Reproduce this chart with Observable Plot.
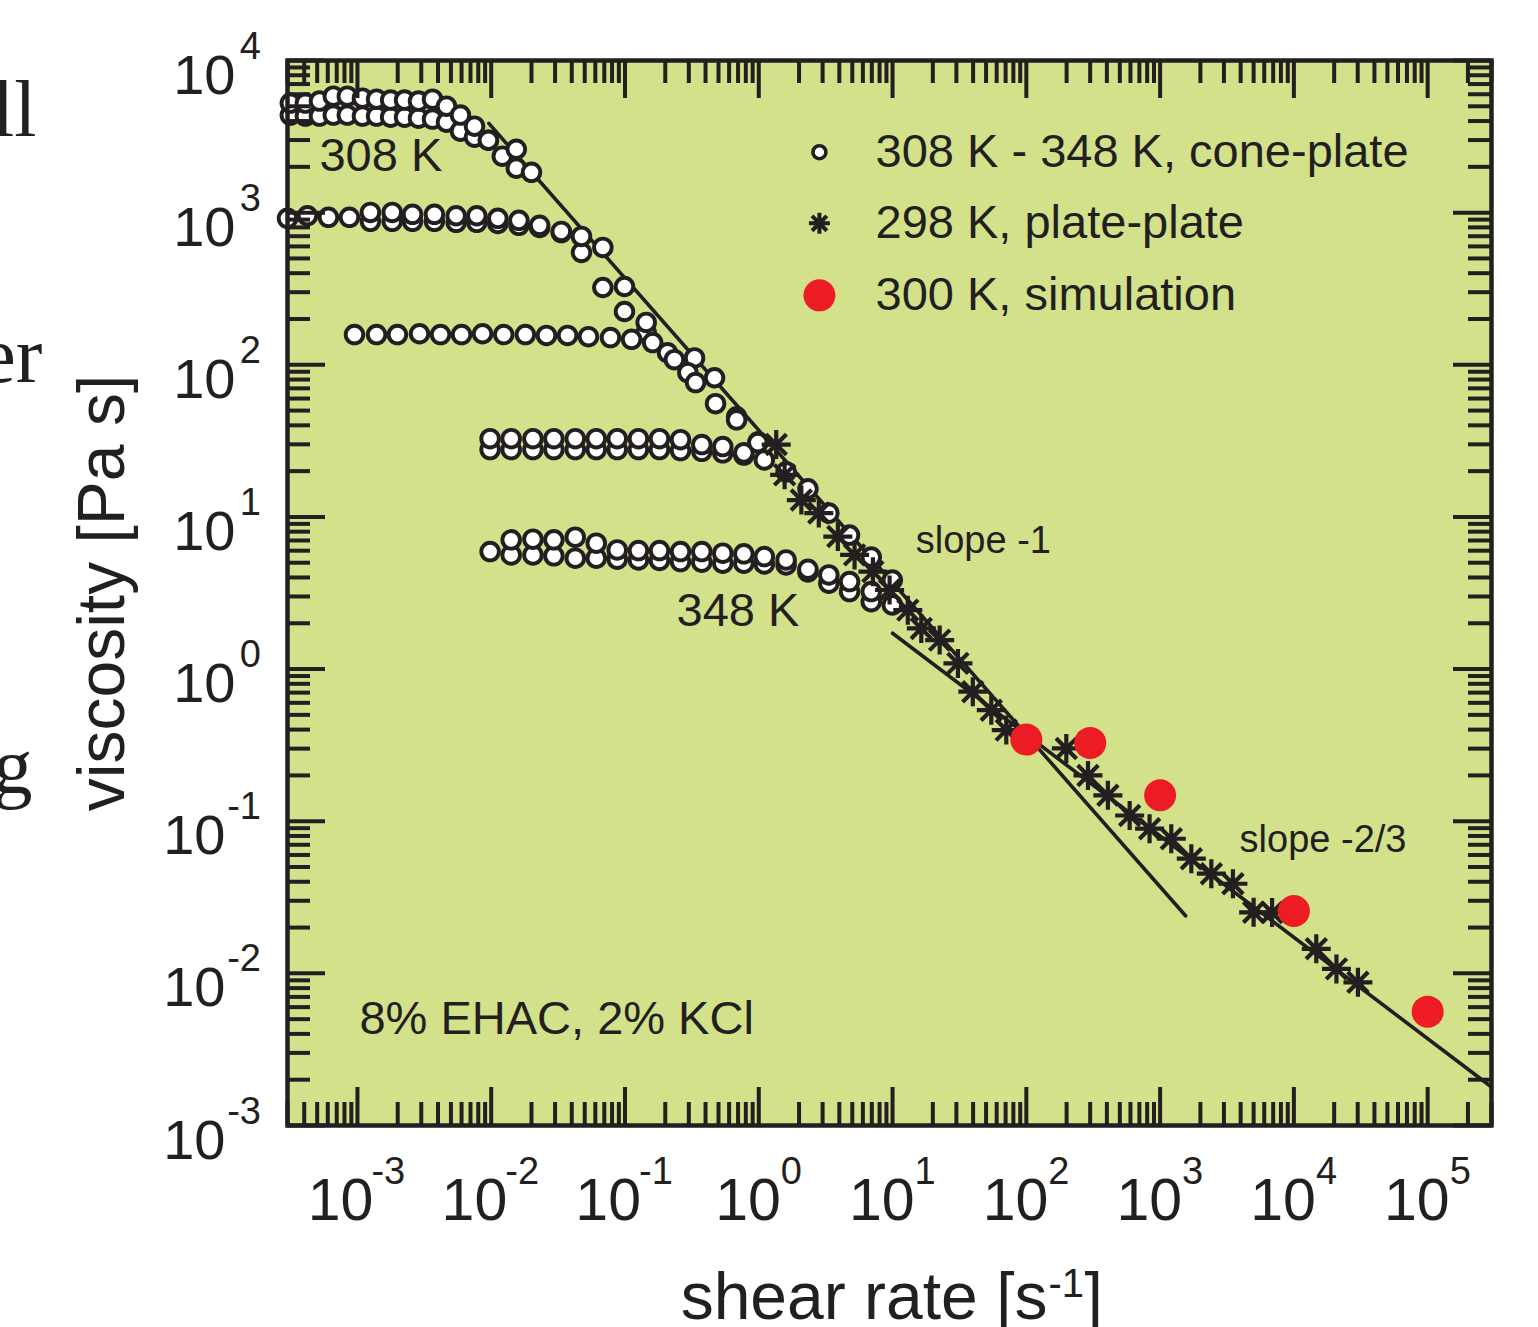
<!DOCTYPE html>
<html><head><meta charset="utf-8">
<script src="https://cdn.jsdelivr.net/npm/d3@7"></script>
<script src="https://cdn.jsdelivr.net/npm/@observablehq/plot@0.6"></script>
<style>html,body{margin:0;padding:0;background:#fff;} #chart svg{display:block;}</style>
</head><body><div id="chart"></div>
<script>
// ---------- data (shear rate [1/s], viscosity [Pa s]) ----------
// cone-plate, 308 K (two runs)
const t308aX = [3.15e-4, 4.08e-4, 5.2e-4, 6.6e-4, 8.4e-4, 1.09e-3, 1.39e-3, 1.77e-3, 2.25e-3, 2.86e-3, 3.64e-3, 4.63e-3, 5.89e-3, 7.5e-3, 9.53e-3, 1.21e-2, 1.54e-2];
const t308aY = [5250, 5250, 5410, 5830, 5830, 5650, 5570, 5490, 5490, 5410, 5570, 5010, 4380, 3700, 2990, 2350, 2610];
const t308bX = [3.15e-4, 4.08e-4, 5.2e-4, 6.6e-4, 8.4e-4, 1.09e-3, 1.39e-3, 1.77e-3, 2.25e-3, 2.86e-3, 3.64e-3, 4.63e-3, 5.89e-3, 7.5e-3, 9.53e-3, 1.54e-2, 2.0e-2];
const t308bY = [4380, 4310, 4310, 4380, 4380, 4310, 4310, 4240, 4240, 4180, 4120, 3930, 3430, 3130, 2990, 1960, 1840];
// ~318 K
const t318aX = [3.0e-4, 4.23e-4, 6.07e-4, 8.71e-4, 1.25e-3, 1.82e-3, 2.58e-3, 3.76e-3, 5.47e-3, 7.80e-3, 1.12e-2, 1.61e-2, 2.30e-2, 3.34e-2, 4.73e-2, 6.83e-2, 9.91e-2, 0.144, 0.208, 0.295];
const t318aY = [917, 954, 931, 931, 1004, 1004, 975, 975, 954, 954, 917, 890, 825, 753, 698, 591, 327, 190, 120, 88.8];
const t318bX = [1.25e-3, 1.82e-3, 2.58e-3, 3.76e-3, 5.47e-3, 7.80e-3, 1.12e-2, 1.61e-2, 2.30e-2, 3.34e-2, 4.73e-2, 6.83e-2, 9.91e-2, 0.144, 0.331, 0.467, 0.683];
const t318bY = [877, 877, 877, 877, 864, 864, 850, 825, 800, 740, 547, 322, 224, 163, 111, 82.2, 45.5];
// ~328 K
const t328X = [9.5e-4, 1.39e-3, 1.99e-3, 2.91e-3, 4.18e-3, 6.0e-3, 8.61e-3, 1.24e-2, 1.80e-2, 2.59e-2, 3.72e-2, 5.33e-2, 7.79e-2, 0.112, 0.161, 0.234, 0.337, 0.475, 0.683, 0.99];
const t328Y = [158, 158, 158, 160, 158, 158, 160, 158, 158, 156, 156, 153, 151, 147, 140, 108, 76.4, 55.5, 43.5, 31.2];
// ~338 K
const t338aX = [9.81e-3, 1.41e-2, 2.05e-2, 2.94e-2, 4.25e-2, 6.10e-2, 8.75e-2, 0.126, 0.181, 0.260, 0.375, 0.538, 0.773, 0.984, 1.10, 1.60, 2.33, 3.34, 4.77, 6.93, 9.96];
const t338aY = [32.7, 32.7, 32.7, 32.7, 32.7, 32.7, 32.7, 32.7, 32.7, 32.2, 29.9, 29.0, 26.4, 30.8, 23.7, 19.8, 15.3, 10.6, 7.6, 5.45, 3.85];
const t338bX = [9.81e-3, 1.41e-2, 2.05e-2, 2.94e-2, 4.25e-2, 6.10e-2, 8.75e-2, 0.126, 0.181, 0.260, 0.375, 0.538, 0.773];
const t338bY = [27.7, 27.7, 27.7, 27.7, 27.7, 27.7, 27.7, 27.7, 27.7, 27.3, 27.0, 26.4, 25.5];
// 348 K
const t348aX = [1.41e-2, 2.05e-2, 2.94e-2, 4.25e-2, 6.10e-2, 8.75e-2, 0.126, 0.181, 0.260, 0.375, 0.538, 0.773, 1.10, 1.60, 2.33, 3.34, 4.77, 6.93];
const t348aY = [7.07, 7.14, 7.07, 7.36, 6.72, 6.07, 6.01, 6.01, 5.92, 5.92, 5.78, 5.72, 5.49, 5.22, 4.53, 4.16, 3.76, 3.23];
const t348bX = [9.81e-3, 1.41e-2, 2.05e-2, 2.94e-2, 4.25e-2, 6.10e-2, 8.75e-2, 0.126, 0.181, 0.260, 0.375, 0.538, 0.773, 1.10, 1.60, 2.33, 3.34, 4.77, 6.93, 9.96];
const t348bY = [5.92, 5.63, 5.63, 5.55, 5.36, 5.36, 5.28, 5.22, 5.17, 5.09, 5.04, 4.96, 4.96, 4.91, 4.84, 4.35, 3.67, 3.23, 2.77, 2.64];
// plate-plate, 298 K
const ppX = [1.35, 1.56, 2.08, 2.81, 3.90, 5.20, 7.13, 9.5, 13.0, 16.4, 22.5, 30.8, 39.8, 54.7, 70.8, 199, 289, 407, 592, 834, 1212, 1711, 2414, 3501, 5000, 6870, 14700, 20800, 30100];
const ppY = [29.9, 18.9, 12.9, 10.6, 7.43, 5.63, 4.37, 3.31, 2.44, 1.85, 1.55, 1.09, 0.710, 0.537, 0.397, 0.301, 0.200, 0.148, 0.109, 0.0893, 0.0767, 0.0567, 0.0452, 0.0388, 0.0252, 0.0251, 0.0145, 0.0107, 0.00873];
// simulation, 300 K
const simX = [100, 300, 1000, 10000, 100000];
const simY = [0.344, 0.327, 0.148, 0.0257, 0.0056];
// guide lines
const slope1X = [0.0096, 1550];
const slope1Y = [3860, 0.0239];
const slope23X = [10, 3e5];
const slope23Y = [1.72, 0.00179];
// tick exponents
const xExps = [-3, -2, -1, 0, 1, 2, 3, 4, 5];
const yExps = [-3, -2, -1, 0, 1, 2, 3, 4];
// legend
const legendLabels = ["308 K - 348 K, cone-plate", "298 K, plate-plate", "300 K, simulation"];
const legendY = [2495, 851, 286];
const legendMarkX = 2.84;
const legendTextX = 7.46;
// annotations
const annoText = ["308 K", "348 K", "8% EHAC, 2% KCl"];
const annoX = [5.2e-4, 0.2426, 1.035e-3];
const annoY = [2350, 2.41, 5.04e-3];
const slopeText = ["slope -1", "slope -2/3"];
const slopeTX = [14.9, 3926];
const slopeTY = [6.96, 0.076];

// ---------- helpers ----------
const pts = (xs, ys) => xs.map((x, i) => ({x, y: ys[i]}));
const ink = "#231f20";
const bg = "#d3e18b";
const FONT = "'Liberation Sans', Arial, Helvetica, sans-serif";
const W = 1538, H = 1327, mL = 287, mR = 47, mT = 60, mB = 202;
const fW = W - mL - mR, fH = H - mT - mB;
const xDomain = [3e-4, 3e5], yDomain = [1e-3, 1e4];
const xAll = d3.scaleLog().domain(xDomain).ticks();
const yAll = d3.scaleLog().domain(yDomain).ticks();
const isMajor = v => Math.abs(Math.log10(v) - Math.round(Math.log10(v))) < 1e-9;
const xMajor = xAll.filter(isMajor), xMinor = xAll.filter(v => !isMajor(v));
const yMajor = yAll.filter(isMajor), yMinor = yAll.filter(v => !isMajor(v));
const MAJ = 38, MIN = 23, TW = 4;

const asterisk8 = {
  draw(context, size) {
    const r = Math.sqrt(size / Math.PI);
    const d = r * Math.SQRT1_2;
    context.moveTo(0, -r); context.lineTo(0, r);
    context.moveTo(-r, 0); context.lineTo(r, 0);
    context.moveTo(-d, -d); context.lineTo(d, d);
    context.moveTo(-d, d); context.lineTo(d, -d);
  }
};

const circ = (xs, ys) => Plot.dot(pts(xs, ys), {x: "x", y: "y", r: 8.8, fill: "#fff", stroke: ink, strokeWidth: 3.9});

const legendRows = legendLabels.map((t, i) => ({t, y: legendY[i]}));
const annos = annoText.map((t, i) => ({t, x: annoX[i], y: annoY[i]}));
const slopes = slopeText.map((t, i) => ({t, x: slopeTX[i], y: slopeTY[i]}));

const chart = Plot.plot({
  width: W, height: H,
  marginLeft: mL, marginRight: mR, marginTop: mT, marginBottom: mB,
  x: {type: "log", domain: xDomain, axis: null},
  y: {type: "log", domain: yDomain, axis: null},
  style: {fontFamily: FONT, background: "#fff", color: ink, overflow: "visible"},
  marks: [
    Plot.frame({fill: bg, stroke: "none"}),
    // guide lines
    Plot.line(pts(slope1X, slope1Y), {x: "x", y: "y", stroke: ink, strokeWidth: 3.6}),
    Plot.line(pts(slope23X, slope23Y), {x: "x", y: "y", stroke: ink, strokeWidth: 3.6}),
    // cone-plate data (lower runs first)
    circ(t308bX, t308bY), circ(t308aX, t308aY),
    circ(t318bX, t318bY), circ(t318aX, t318aY),
    circ(t328X, t328Y),
    circ(t338bX, t338bY), circ(t338aX, t338aY),
    circ(t348bX, t348bY), circ(t348aX, t348aY),
    // plate-plate
    Plot.dot(pts(ppX, ppY), {x: "x", y: "y", symbol: asterisk8, r: 14.5, fill: "none", stroke: ink, strokeWidth: 4.2}),
    // simulation
    Plot.dot(pts(simX, simY), {x: "x", y: "y", r: 16, fill: "#ed1c24", stroke: "none"}),
    // frame ticks (inward)
    Plot.ruleX(xMajor, {x: d => d, insetTop: fH - MAJ, stroke: ink, strokeWidth: TW}),
    Plot.ruleX(xMinor, {x: d => d, insetTop: fH - MIN, stroke: ink, strokeWidth: TW}),
    Plot.ruleX(xMajor, {x: d => d, insetBottom: fH - MAJ, stroke: ink, strokeWidth: TW}),
    Plot.ruleX(xMinor, {x: d => d, insetBottom: fH - MIN, stroke: ink, strokeWidth: TW}),
    Plot.ruleY(yMajor, {y: d => d, insetRight: fW - MAJ, stroke: ink, strokeWidth: TW}),
    Plot.ruleY(yMinor, {y: d => d, insetRight: fW - MIN, stroke: ink, strokeWidth: TW}),
    Plot.ruleY(yMajor, {y: d => d, insetLeft: fW - MAJ, stroke: ink, strokeWidth: TW}),
    Plot.ruleY(yMinor, {y: d => d, insetLeft: fW - MIN, stroke: ink, strokeWidth: TW}),
    Plot.frame({stroke: ink, strokeWidth: 4.5, fill: "none"}),
    // x tick labels
    Plot.text(xExps.filter(e => e < 0), {x: e => 10 ** e, text: () => "10", frameAnchor: "bottom", textAnchor: "end", lineAnchor: "bottom", dx: 16, dy: 94.5, fontSize: 59, fill: ink, fontFamily: FONT}),
    Plot.text(xExps.filter(e => e < 0), {x: e => 10 ** e, text: e => String(e), frameAnchor: "bottom", textAnchor: "start", lineAnchor: "bottom", dx: 14, dy: 58.5, fontSize: 38, fill: ink, fontFamily: FONT}),
    Plot.text(xExps.filter(e => e >= 0), {x: e => 10 ** e, text: () => "10", frameAnchor: "bottom", textAnchor: "end", lineAnchor: "bottom", dx: 22, dy: 94.5, fontSize: 59, fill: ink, fontFamily: FONT}),
    Plot.text(xExps.filter(e => e >= 0), {x: e => 10 ** e, text: e => String(e), frameAnchor: "bottom", textAnchor: "start", lineAnchor: "bottom", dx: 22, dy: 58.5, fontSize: 38, fill: ink, fontFamily: FONT}),
    // y tick labels
    Plot.text(yExps.filter(e => e < 0), {y: e => 10 ** e, text: () => "10", frameAnchor: "left", textAnchor: "end", lineAnchor: "bottom", dx: -62, dy: 33, fontSize: 56, fill: ink, fontFamily: FONT}),
    Plot.text(yExps.filter(e => e >= 0), {y: e => 10 ** e, text: () => "10", frameAnchor: "left", textAnchor: "end", lineAnchor: "bottom", dx: -52, dy: 33, fontSize: 56, fill: ink, fontFamily: FONT}),
    Plot.text(yExps, {y: e => 10 ** e, text: e => String(e), frameAnchor: "left", textAnchor: "end", lineAnchor: "bottom", dx: -26.5, dy: -2, fontSize: 38, fill: ink, fontFamily: FONT}),
    // axis titles
    Plot.text(["shear rate [s"], {frameAnchor: "bottom", textAnchor: "end", lineAnchor: "bottom", dx: 158, dy: 193.5, fontSize: 66, fill: ink, fontFamily: FONT}),
    Plot.text(["-1"], {frameAnchor: "bottom", textAnchor: "start", lineAnchor: "bottom", dx: 159, dy: 171, fontSize: 40, fill: ink, fontFamily: FONT}),
    Plot.text(["]"], {frameAnchor: "bottom", textAnchor: "start", lineAnchor: "bottom", dx: 195, dy: 193.5, fontSize: 66, fill: ink, fontFamily: FONT}),
    Plot.text(["viscosity [Pa s]"], {frameAnchor: "left", rotate: -90, textAnchor: "middle", lineAnchor: "bottom", dx: 123 - mL, dy: 0, fontSize: 66, fill: ink, fontFamily: FONT}),
    // legend
    Plot.dot([legendRows[0]], {x: () => legendMarkX, y: "y", r: 6.5, fill: "#fff", stroke: ink, strokeWidth: 3.6}),
    Plot.dot([legendRows[1]], {x: () => legendMarkX, y: "y", symbol: asterisk8, r: 10.5, fill: "none", stroke: ink, strokeWidth: 4}),
    Plot.dot([legendRows[2]], {x: () => legendMarkX, y: "y", r: 16, fill: "#ed1c24", stroke: "none"}),
    Plot.text(legendRows, {x: () => legendTextX, y: "y", text: "t", textAnchor: "start", lineAnchor: "middle", fontSize: 47, fill: ink, fontFamily: FONT}),
    // annotations
    Plot.text(annos, {x: "x", y: "y", text: "t", textAnchor: "start", lineAnchor: "middle", fontSize: 47, fill: ink, fontFamily: FONT}),
    Plot.text(slopes, {x: "x", y: "y", text: "t", textAnchor: "start", lineAnchor: "middle", fontSize: 38, fill: ink, fontFamily: FONT}),
    // clipped words from the surrounding page text
    Plot.text(["ll"], {frameAnchor: "top-left", textAnchor: "end", lineAnchor: "bottom", dx: 36 - mL, dy: 135 - mT, fontSize: 80, fill: ink, fontFamily: "'Liberation Serif', 'Times New Roman', serif"}),
    Plot.text(["er"], {frameAnchor: "top-left", textAnchor: "end", lineAnchor: "bottom", dx: 42 - mL, dy: 381 - mT, fontSize: 80, fill: ink, fontFamily: "'Liberation Serif', 'Times New Roman', serif"}),
    Plot.text(["g"], {frameAnchor: "top-left", textAnchor: "end", lineAnchor: "bottom", dx: 32 - mL, dy: 792 - mT, fontSize: 80, fill: ink, fontFamily: "'Liberation Serif', 'Times New Roman', serif"})
  ]
});
document.getElementById("chart").appendChild(chart);
</script>
</body></html>
